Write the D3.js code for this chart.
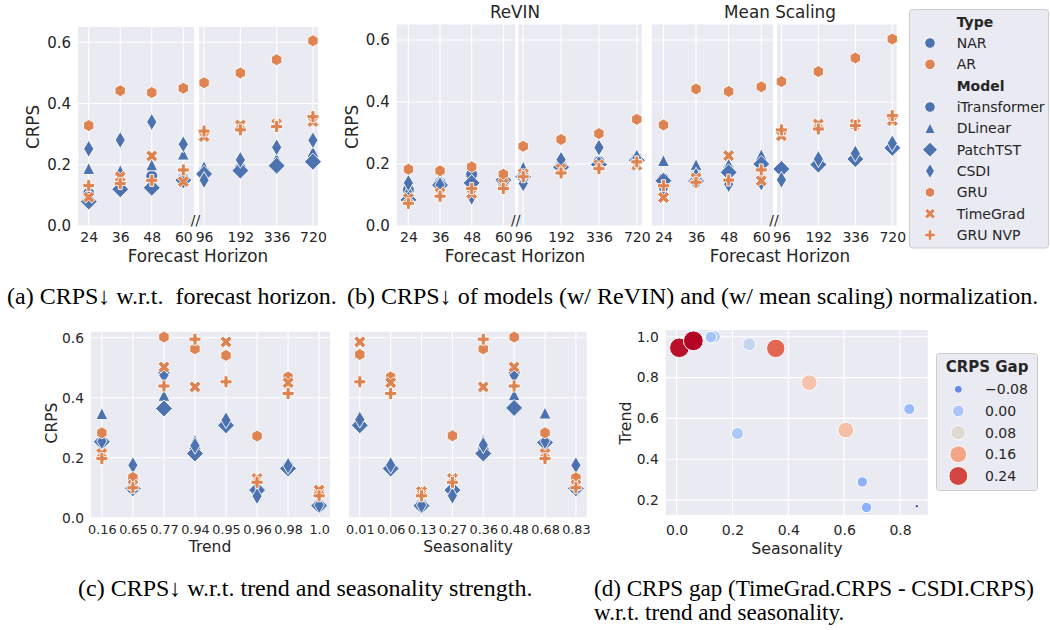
<!DOCTYPE html>
<html>
<head>
<meta charset="utf-8">
<script src="https://cdn.jsdelivr.net/npm/d3@7/dist/d3.min.js"></script>
<style>
  body { margin: 0; background: #fff; }
  #chart text { font-family: "DejaVu Sans", sans-serif; fill: #262626; }
  #chart .caption { font-family: "Liberation Serif", "Times New Roman", serif; fill: #000; white-space: pre; }
</style>
</head>
<body>
<svg id="chart" width="1050" height="630"></svg>
<script>
const models = ['iTransformer', 'DLinear', 'PatchTST', 'CSDI', 'GRU', 'TimeGrad', 'GRU NVP']
const modelTypes = ['NAR', 'NAR', 'NAR', 'NAR', 'AR', 'AR', 'AR']
const typeNames = ['NAR', 'AR']

const horizonShort = ['24', '36', '48', '60']
const horizonLong = ['96', '192', '336', '720']
const trendTicks = ['0.16', '0.65', '0.77', '0.94', '0.95', '0.96', '0.98', '1.0']
const seasonTicks = ['0.01', '0.06', '0.13', '0.27', '0.36', '0.48', '0.68', '0.83']

// (a) CRPS per horizon, one row per model (same order as models)
const crpsHorizon = [
  [0.107, 0.128, 0.163, 0.156, 0.178, 0.188, 0.200, 0.216],
  [0.188, 0.181, 0.200, 0.235, 0.194, 0.190, 0.220, 0.243],
  [0.080, 0.120, 0.125, 0.150, 0.170, 0.181, 0.197, 0.210],
  [0.252, 0.281, 0.340, 0.267, 0.150, 0.216, 0.257, 0.280],
  [0.328, 0.442, 0.436, 0.450, 0.468, 0.500, 0.543, 0.605],
  [0.094, 0.161, 0.229, 0.145, 0.292, 0.330, 0.333, 0.341],
  [0.132, 0.139, 0.149, 0.183, 0.310, 0.314, 0.325, 0.357]
]
// (b) ReVIN
const crpsRevin = [
  [0.116, 0.140, 0.167, 0.150, 0.169, 0.195, 0.207, 0.218],
  [0.116, 0.153, 0.148, 0.150, 0.190, 0.196, 0.207, 0.228],
  [0.084, 0.132, 0.139, 0.148, 0.159, 0.190, 0.198, 0.212],
  [0.139, 0.132, 0.094, 0.148, 0.137, 0.214, 0.253, 0.220],
  [0.183, 0.178, 0.191, 0.167, 0.257, 0.279, 0.298, 0.344],
  [0.089, 0.107, 0.105, 0.137, 0.169, 0.185, 0.198, 0.196],
  [0.073, 0.096, 0.121, 0.121, 0.159, 0.171, 0.185, 0.207]
]
// (b) mean scaling
const crpsMeanScaling = [
  [0.152, 0.162, 0.184, 0.205, 0.184, 0.205, 0.222, 0.258],
  [0.211, 0.198, 0.200, 0.230, 0.190, 0.210, 0.235, 0.260],
  [0.146, 0.145, 0.173, 0.200, 0.184, 0.198, 0.216, 0.252],
  [0.120, 0.162, 0.135, 0.140, 0.149, 0.216, 0.234, 0.267],
  [0.326, 0.442, 0.434, 0.449, 0.466, 0.498, 0.542, 0.603],
  [0.092, 0.155, 0.227, 0.146, 0.291, 0.329, 0.329, 0.340],
  [0.130, 0.141, 0.148, 0.181, 0.310, 0.313, 0.324, 0.356]
]
// (c) trend
const crpsTrend = [
  [0.255, 0.100, 0.483, 0.225, 0.315, 0.095, 0.170, 0.045],
  [0.347, 0.105, 0.408, 0.258, 0.320, 0.095, 0.170, 0.045],
  [0.253, 0.098, 0.364, 0.214, 0.308, 0.092, 0.164, 0.040],
  [0.255, 0.175, 0.475, 0.240, 0.325, 0.072, 0.173, 0.042],
  [0.283, 0.134, 0.602, 0.563, 0.541, 0.272, 0.469, 0.085],
  [0.214, 0.109, 0.502, 0.436, 0.586, 0.131, 0.450, 0.092],
  [0.197, 0.100, 0.439, 0.595, 0.453, 0.118, 0.414, 0.073]
]
// (c) seasonality
const crpsSeason = [
  [0.315, 0.170, 0.045, 0.095, 0.225, 0.483, 0.255, 0.100],
  [0.320, 0.170, 0.045, 0.095, 0.258, 0.410, 0.349, 0.105],
  [0.308, 0.164, 0.040, 0.092, 0.214, 0.366, 0.251, 0.098],
  [0.327, 0.175, 0.042, 0.073, 0.242, 0.475, 0.255, 0.175],
  [0.544, 0.469, 0.085, 0.273, 0.563, 0.602, 0.283, 0.133],
  [0.586, 0.450, 0.087, 0.131, 0.436, 0.502, 0.214, 0.109],
  [0.453, 0.414, 0.073, 0.118, 0.595, 0.439, 0.197, 0.100]
]
// (d) CRPS gap
const gapSeasonality = [0.010, 0.060, 0.135, 0.123, 0.260, 0.355, 0.475, 0.606, 0.218, 0.833, 0.665, 0.680, 0.860]
const gapTrend = [0.946, 0.980, 1.000, 0.998, 0.963, 0.943, 0.775, 0.543, 0.526, 0.646, 0.289, 0.164, 0.170]
const gapValue = [0.270, 0.277, 0.013, -0.004, 0.037, 0.219, 0.124, 0.128, 0.004, -0.016, -0.033, -0.033, -0.136]
const gapLegend = [-0.08, 0.00, 0.08, 0.16, 0.24]

let svg = d3.select('#chart')
let typeColor = { NAR: '#4c72b0', AR: '#dd8452' }
let markers = ['o', '^', 'D', 'd', 'h', 'X', 'P']
let bg = '#eaeaf2'

function markerPath (m, s) {
  let h = s / 2
  let d = s * Math.SQRT1_2
  let pts
  if (m === 'o') return d3.symbol(d3.symbolCircle, Math.PI * h * h)()
  if (m === '^') pts = [[0, -h], [h, h], [-h, h]]
  if (m === 'D') pts = [[0, -d], [d, 0], [0, d], [-d, 0]]
  if (m === 'd') pts = [[0, -d], [0.6 * d, 0], [0, d], [-0.6 * d, 0]]
  if (m === 'h') pts = d3.range(6).map(k => [h * Math.cos(-Math.PI / 2 + k * Math.PI / 3), h * Math.sin(-Math.PI / 2 + k * Math.PI / 3)])
  if (m === 'X') pts = [[-1, -2], [0, -1], [1, -2], [2, -1], [1, 0], [2, 1], [1, 2], [0, 1], [-1, 2], [-2, 1], [-1, 0], [-2, -1]].map(p => [p[0] * s / 4, p[1] * s / 4])
  if (m === 'P') pts = [[-1, -3], [1, -3], [1, -1], [3, -1], [3, 1], [1, 1], [1, 3], [-1, 3], [-1, 1], [-3, 1], [-3, -1], [-1, -1]].map(p => [p[0] * s / 6, p[1] * s / 6])
  return 'M' + pts.map(p => p.join(',')).join('L') + 'Z'
}

function cleanAxis (g, size) {
  g.select('.domain').remove()
  g.selectAll('text').style('font-size', size + 'px')
}

function yAxis (y, x0, size) {
  svg.append('g').attr('transform', `translate(${x0},0)`)
    .call(d3.axisLeft(y).ticks(4).tickFormat(d3.format('.1f')).tickSize(0).tickPadding(7))
    .call(g => cleanAxis(g, size))
}

function label (text, x, y, size, rotate) {
  svg.append('text').attr('transform', `translate(${x},${y})` + (rotate ? ' rotate(-90)' : ''))
    .attr('text-anchor', 'middle').style('font-size', size + 'px').text(text)
}

// one categorical axes box with its points
function catAxes (cats, x0, x1, pad, y, rows, offset, o) {
  let x = d3.scalePoint().domain(cats).range([x0, x1]).padding(pad)
  let top = y.range()[1]
  let bottom = y.range()[0]
  let g = svg.append('g')
  g.append('rect').attr('x', x0).attr('y', top).attr('width', x1 - x0).attr('height', bottom - top).attr('fill', bg)
  g.selectAll('.hg').data(y.ticks(4)).join('line')
    .attr('x1', x0).attr('x2', x1).attr('y1', d => y(d)).attr('y2', d => y(d))
    .attr('stroke', '#fff').attr('stroke-width', 1.1)
  g.selectAll('.vg').data(cats).join('line')
    .attr('x1', d => x(d)).attr('x2', d => x(d)).attr('y1', top).attr('y2', bottom)
    .attr('stroke', '#fff').attr('stroke-width', 1.1)
  g.append('g').attr('transform', `translate(0,${bottom})`)
    .call(d3.axisBottom(x).tickSize(0).tickPadding(o.xPad))
    .call(a => cleanAxis(a, o.xFont))
  let pts = []
  rows.forEach((vals, i) => cats.forEach((c, j) => pts.push({ i: i, cat: c, value: vals[j + offset] })))
  g.selectAll('.pt').data(pts).join('path')
    .attr('transform', d => `translate(${x(d.cat)},${y(d.value)})`)
    .attr('d', d => markerPath(markers[d.i], 12))
    .attr('fill', d => typeColor[modelTypes[d.i]])
    .attr('stroke', '#fff').attr('stroke-width', 0.9)
}

function horizonPanel (rows, top, subA, subB) {
  let y = d3.scaleLinear().domain([0, 0.65]).range([226, top])
  let o = { xPad: 6.5, xFont: 14 }
  catAxes(horizonShort, subA[0], subA[1], subA[2], y, rows, 0, o)
  catAxes(horizonLong, subB[0], subB[1], subB[2], y, rows, 4, o)
  svg.append('text').attr('x', (subA[1] + subB[0]) / 2 - 1).attr('y', 225)
    .attr('text-anchor', 'middle').style('font-size', '14px').text('//')
  return y
}

// (a)
let yA = horizonPanel(crpsHorizon, 27, [78, 194, 0.34], [199, 318, 0.14])
yAxis(yA, 78, 15)
label('CRPS', 39, 127, 16.8, true)
label('Forecast Horizon', 198, 261.5, 16.8)

// (b)
let yB = horizonPanel(crpsRevin, 24.5, [396.7, 515, 0.37], [518.3, 641.7, 0.13])
yAxis(yB, 396.7, 15)
label('CRPS', 357.5, 127, 16.8, true)
label('Forecast Horizon', 515, 261.5, 16.8)
label('ReVIN', 515, 18, 16.8)
horizonPanel(crpsMeanScaling, 24.5, [651.7, 773, 0.36], [777, 896.7, 0.12])
label('Forecast Horizon', 780, 261.5, 16.8)
label('Mean Scaling', 780, 18, 16.8)

// legend for (a) and (b)
let legA = svg.append('g')
legA.append('rect').attr('x', 909.5).attr('y', 9.5).attr('width', 139).attr('height', 238.5).attr('rx', 3)
  .attr('fill', bg).attr('stroke', '#cccccc')
let legRows = [{ head: 'Type' }].concat(typeNames.map(t => ({ name: t, m: 'o', color: typeColor[t] })))
  .concat([{ head: 'Model' }]).concat(models.map((m, i) => ({ name: m, m: markers[i], color: typeColor[modelTypes[i]] })))
legRows.forEach((r, i) => {
  let yy = 21.7 + i * 21.33
  if (r.head) {
    legA.append('text').attr('x', 956.7).attr('y', yy + 5).style('font-size', '14px').style('font-weight', 'bold').text(r.head)
    return
  }
  legA.append('path').attr('transform', `translate(930,${yy})`).attr('d', markerPath(r.m, 10.5))
    .attr('fill', r.color).attr('stroke', '#fff').attr('stroke-width', 0.8)
  legA.append('text').attr('x', 956.7).attr('y', yy + 5).style('font-size', '14px').text(r.name)
})

// (c)
let yC = d3.scaleLinear().domain([0, 0.62]).range([517.7, 331.7])
let oC = { xPad: 7.7, xFont: 12.8 }
catAxes(trendTicks, 91, 330, 0.35, yC, crpsTrend, 0, oC)
catAxes(seasonTicks, 349, 586.7, 0.35, yC, crpsSeason, 0, oC)
yAxis(yC, 91, 13.8)
label('CRPS', 57, 423, 15.5, true)
label('Trend', 210, 552.3, 15.5)
label('Seasonality', 468, 552.3, 15.5)

// (d)
let xD = d3.scaleLinear().domain([-0.039, 0.899]).range([665.7, 927.7])
let yD = d3.scaleLinear().domain([0.127, 1.033]).range([515, 330])
let coolwarm = d3.scaleLinear().domain(d3.range(9).map(k => k / 8))
  .range(['#3b4cc0', '#6282ea', '#8db0fe', '#b8d0f9', '#dddddd', '#f5c4ad', '#f49a7b', '#de604d', '#b40426'])
let gapExtent = d3.extent(gapValue)
let gapNorm = d3.scaleLinear().domain(gapExtent).range([0, 1]).clamp(true)
let gapArea = d3.scaleLinear().domain(gapExtent).range([3, 98])
let gapColor = v => coolwarm(gapNorm(v))
let gapR = v => Math.sqrt(gapArea(v))

let gD = svg.append('g')
gD.append('rect').attr('x', 665.7).attr('y', 330).attr('width', 262).attr('height', 185).attr('fill', bg)
gD.selectAll('.hg').data(yD.ticks(5)).join('line')
  .attr('x1', 665.7).attr('x2', 927.7).attr('y1', d => yD(d)).attr('y2', d => yD(d))
  .attr('stroke', '#fff').attr('stroke-width', 1.1)
gD.selectAll('.vg').data(xD.ticks(5)).join('line')
  .attr('x1', d => xD(d)).attr('x2', d => xD(d)).attr('y1', 330).attr('y2', 515)
  .attr('stroke', '#fff').attr('stroke-width', 1.1)
gD.append('g').attr('transform', 'translate(0,515)')
  .call(d3.axisBottom(xD).ticks(5).tickFormat(d3.format('.1f')).tickSize(0).tickPadding(10))
  .call(a => cleanAxis(a, 14))
gD.append('g').attr('transform', 'translate(665.7,0)')
  .call(d3.axisLeft(yD).ticks(5).tickFormat(d3.format('.1f')).tickSize(0).tickPadding(7))
  .call(a => cleanAxis(a, 13.8))
gD.selectAll('.gap').data(gapValue).join('circle')
  .attr('cx', (d, i) => xD(gapSeasonality[i]))
  .attr('cy', (d, i) => yD(gapTrend[i]))
  .attr('r', d => gapR(d))
  .attr('fill', d => gapColor(d))
  .attr('stroke', '#fff').attr('stroke-width', 1)
label('Seasonality', 797, 553.5, 15.8)
label('Trend', 631, 423, 15.8, true)

// legend for (d)
let legD = svg.append('g')
legD.append('rect').attr('x', 936.5).attr('y', 353.5).attr('width', 101).attr('height', 137).attr('rx', 3)
  .attr('fill', bg).attr('stroke', '#cccccc')
legD.append('text').attr('x', 987).attr('y', 372).attr('text-anchor', 'middle')
  .style('font-size', '15px').style('font-weight', 'bold').text('CRPS Gap')
gapLegend.forEach((v, i) => {
  let yy = 389.3 + i * 21.67
  legD.append('circle').attr('cx', 958.3).attr('cy', yy).attr('r', gapR(v))
    .attr('fill', gapColor(v)).attr('stroke', '#fff').attr('stroke-width', 1)
  legD.append('text').attr('x', 985).attr('y', yy + 5).style('font-size', '14px')
    .text(d3.format('.2f')(v).replace('-', '\u2212'))
})

// captions
let captions = [
  ['(a) CRPS\u2193 w.r.t.  forecast horizon.', 7, 304, 24],
  ['(b) CRPS\u2193 of models (w/ ReVIN) and (w/ mean scaling) normalization.', 347, 304, 24],
  ['(c) CRPS\u2193 w.r.t. trend and seasonality strength.', 78, 596, 24],
  ['(d) CRPS gap (TimeGrad.CRPS - CSDI.CRPS)', 594, 596, 23.1],
  ['w.r.t. trend and seasonality.', 594, 620, 23.1]
]
svg.selectAll('.caption').data(captions).join('text').attr('class', 'caption')
  .attr('x', d => d[1]).attr('y', d => d[2]).style('font-size', d => d[3] + 'px').text(d => d[0])
</script>
</body>
</html>
